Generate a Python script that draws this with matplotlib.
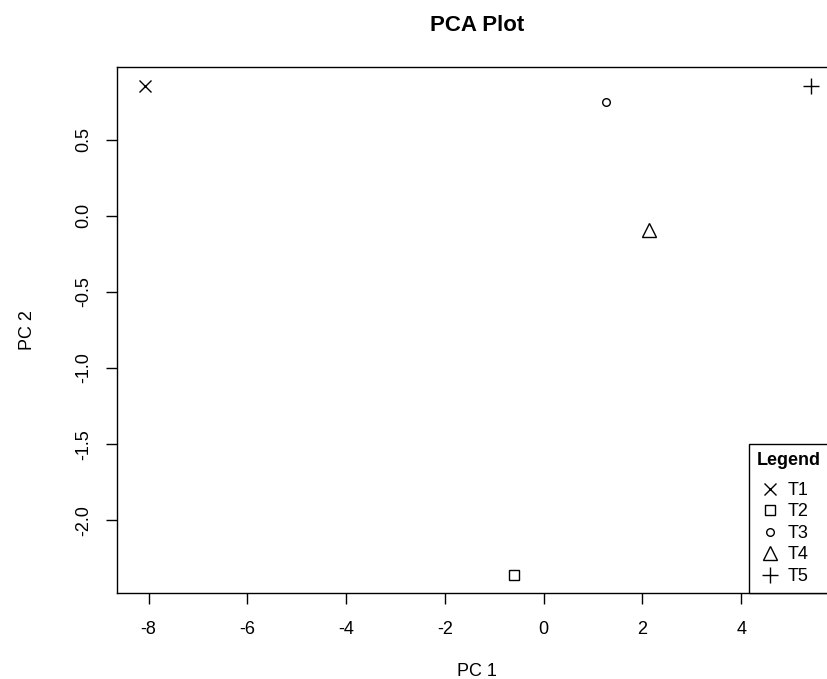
import matplotlib
matplotlib.use('Agg')
from matplotlib import pyplot as plt, rcParams

rcParams['font.family'] = ['Liberation Sans', 'DejaVu Sans']

# PCA scores
samples = ['T1', 'T2', 'T3', 'T4', 'T5']
pc1 = [-8.08, -0.61, 1.27, 2.14, 5.41]
pc2 = [0.85, -2.36, 0.75, -0.09, 0.855]
markers = ['x', 's', 'o', '^', '+']
msizes = [9, 7, 5.5, 9.5, 11]

x_ticks = [-8, -6, -4, -2, 0, 2, 4]
y_ticks = [0.5, 0.0, -0.5, -1.0, -1.5, -2.0]

fig = plt.figure(figsize=(8.27, 6.79), dpi=100)
# axes run past the right edge, the reference is cropped there
ax = fig.add_axes([117 / 827, 1 - 593 / 679, (837 - 117) / 827, (593 - 67) / 679])

for lab, x, y, m, s in zip(samples, pc1, pc2, markers, msizes):
    ax.plot([x], [y], linestyle='none', marker=m, markersize=s,
            markerfacecolor='none', markeredgecolor='black', markeredgewidth=1.0,
            color='black', label=lab)

ax.set_xlim(-8.64, 5.94)
ax.set_ylim(-2.478, 0.978)
ax.set_xticks(x_ticks)
ax.set_xticklabels([f'{v:g}' for v in x_ticks])
ax.set_yticks(y_ticks)
ax.set_yticklabels([f'{v:.1f}' for v in y_ticks], rotation=90, va='center')
ax.tick_params(direction='out', length=8, width=1.0, labelsize=13, pad=12)
ax.tick_params(axis='y', pad=10)
for sp in ax.spines.values():
    sp.set_linewidth(1.0)

ax.set_xlabel('PC 1', fontsize=13, labelpad=18)
ax.set_ylabel('PC 2', fontsize=13, labelpad=28)
ax.set_title('PCA Plot', fontsize=16, fontweight='bold', pad=26)

leg = ax.legend(loc='lower right', borderaxespad=0, fancybox=False, edgecolor='black',
                framealpha=1, title='Legend', fontsize=13, handletextpad=0.2,
                labelspacing=0.25, borderpad=0.45, handlelength=1.5,
                alignment='left', bbox_to_anchor=((829 - 117) / 720, 0.0))
leg.get_frame().set_linewidth(1.0)
leg.get_title().set_fontweight('bold')
leg.get_title().set_fontsize(13)
leg._legend_box.sep = 9  # extra gap under the title

fig.savefig('out.png', dpi=100)
